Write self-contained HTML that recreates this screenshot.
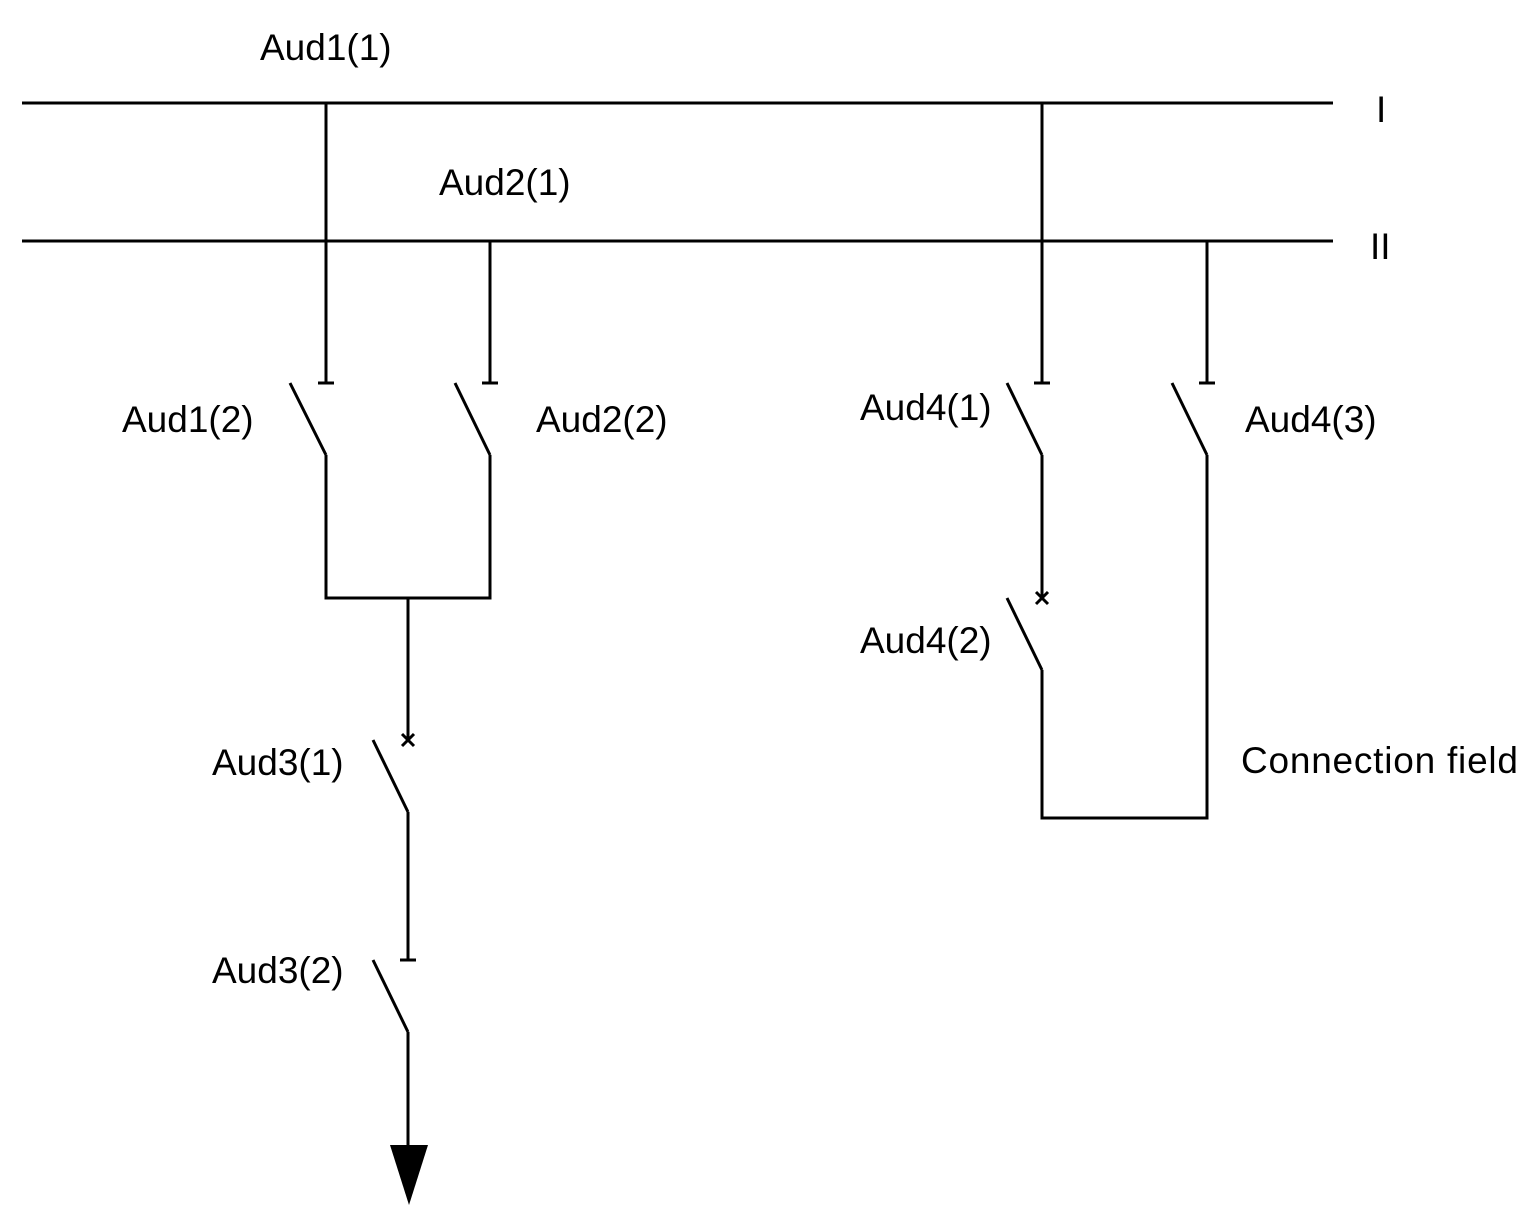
<!DOCTYPE html>
<html><head><meta charset="utf-8"><style>
html,body{margin:0;padding:0;background:#fff;}
svg{display:block;}
text{font-family:"Liberation Sans",Arial,sans-serif;font-size:37px;fill:#000;}
</style></head><body>
<svg width="1536" height="1228" viewBox="0 0 1536 1228" xmlns="http://www.w3.org/2000/svg">
<g stroke="#000" stroke-width="3" fill="none">
<line x1="22" y1="103" x2="1333" y2="103"/>
<line x1="22" y1="241" x2="1333" y2="241"/>
<!-- left -->
<line x1="326" y1="103" x2="326" y2="383"/><line x1="318" y1="383" x2="334" y2="383"/>
<line x1="290" y1="383" x2="326" y2="455"/>
<line x1="490" y1="241" x2="490" y2="383"/><line x1="482" y1="383" x2="498" y2="383"/>
<line x1="455" y1="383" x2="490" y2="455"/>
<polyline points="326,455 326,598 490,598 490,455"/>
<line x1="408" y1="598" x2="408" y2="740"/>
<line x1="402" y1="734" x2="414" y2="746"/><line x1="414" y1="734" x2="402" y2="746"/>
<line x1="373" y1="740" x2="408" y2="812"/>
<line x1="408" y1="812" x2="408" y2="960"/><line x1="400" y1="960" x2="416" y2="960"/>
<line x1="373" y1="960" x2="408" y2="1032"/>
<line x1="408" y1="1032" x2="408" y2="1150"/>
<!-- right -->
<line x1="1042" y1="103" x2="1042" y2="383"/><line x1="1034" y1="383" x2="1050" y2="383"/>
<line x1="1007" y1="383" x2="1042" y2="455"/>
<line x1="1042" y1="455" x2="1042" y2="598"/>
<line x1="1036" y1="592" x2="1048" y2="604"/><line x1="1048" y1="592" x2="1036" y2="604"/>
<line x1="1007" y1="598" x2="1042" y2="670"/>
<polyline points="1042,670 1042,818 1207,818 1207,455"/>
<line x1="1172" y1="383" x2="1207" y2="455"/>
<line x1="1207" y1="241" x2="1207" y2="383"/><line x1="1199" y1="383" x2="1215" y2="383"/>
</g>
<polygon points="390,1145 428,1145 409,1205" fill="#000"/>
<text x="260" y="60">Aud1(1)</text>
<text x="439" y="195">Aud2(1)</text>
<text x="1376" y="122">I</text>
<text x="1370" y="259">II</text>
<text x="122" y="432">Aud1(2)</text>
<text x="536" y="432">Aud2(2)</text>
<text x="860" y="420">Aud4(1)</text>
<text x="1245" y="432">Aud4(3)</text>
<text x="860" y="653">Aud4(2)</text>
<text x="212" y="775">Aud3(1)</text>
<text x="212" y="983">Aud3(2)</text>
<text x="1241" y="773" textLength="277">Connection field</text>
</svg>
</body></html>
